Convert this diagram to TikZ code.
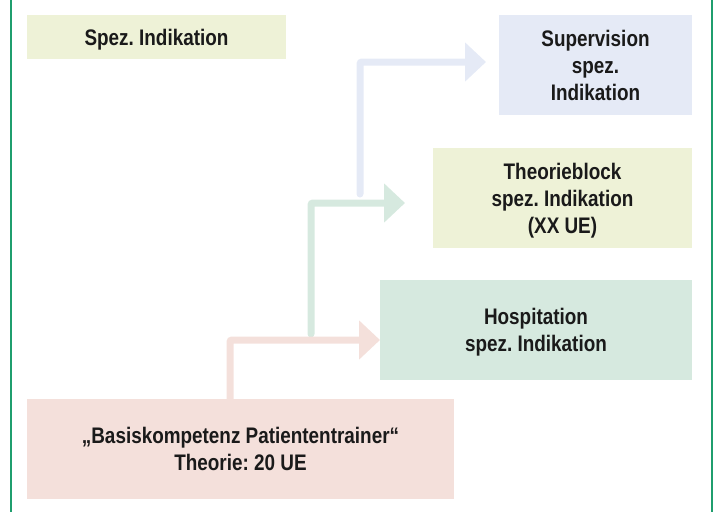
\documentclass[tikz,border=0pt]{standalone}
\usepackage{fontspec}
\setmainfont{Liberation Sans}[FakeStretch=0.84]
\usetikzlibrary{arrows.meta}
\frenchspacing
\definecolor{frameGreen}{HTML}{1F9E6E}
\definecolor{fillYellow}{HTML}{EEF2D7}
\definecolor{fillBlue}{HTML}{E5EAF6}
\definecolor{fillGreen}{HTML}{D6E9DF}
\definecolor{fillPink}{HTML}{F4E0DB}
\definecolor{textDark}{HTML}{1A1A1A}
\begin{document}
\begin{tikzpicture}[x=1pt,y=-1pt,
  box/.style={inner sep=0pt, align=center, text=textDark, text depth=0pt,
    font=\fontsize{22.5}{27}\selectfont\bfseries},
  flow/.style={line width=7pt, line cap=round, rounded corners=2pt,
    -{Triangle[length=21pt,width=38pt]}}
]
\useasboundingbox (0,0) rectangle (713,512);
% side rules of the frame
\draw[frameGreen, line width=2pt] (10.5,0) -- (10.5,512);
\draw[frameGreen, line width=2pt] (711.5,0) -- (711.5,512);

% boxes
\node[box, fill=fillYellow, minimum width=259pt, minimum height=44pt] (spez) at (156.5,37) {Spez. Indikation};
\node[box, fill=fillBlue, minimum width=193pt, minimum height=100pt] (sup) at (595.5,65) {Supervision\\spez.\\Indikation};
\node[box, fill=fillYellow, minimum width=259pt, minimum height=100pt] (theo) at (562.5,198) {Theorieblock\\spez. Indikation\\(XX UE)};
\node[box, fill=fillGreen, minimum width=312pt, minimum height=100pt] (hosp) at (536,330) {Hospitation\\spez. Indikation};
\node[box, fill=fillPink, minimum width=427pt, minimum height=100pt] (basis) at (240.5,449) {„Basiskompetenz Patiententrainer“\\Theorie: 20 UE};

% branch points and arrow tips
\coordinate (pinkStart) at (230,399);
\coordinate (pinkTip) at (380,340);
\coordinate (greenStart) at (311,334);
\coordinate (greenTip) at (405,203);
\coordinate (blueStart) at (360,194);
\coordinate (blueTip) at (486,62);

% connectors
\draw[flow, fillBlue, line cap=round] (blueStart) |- (blueTip);
\draw[flow, fillGreen, line cap=round] (greenStart) |- (greenTip);
\draw[flow, fillPink, line cap=butt] (pinkStart) |- (pinkTip);
\end{tikzpicture}
\end{document}
